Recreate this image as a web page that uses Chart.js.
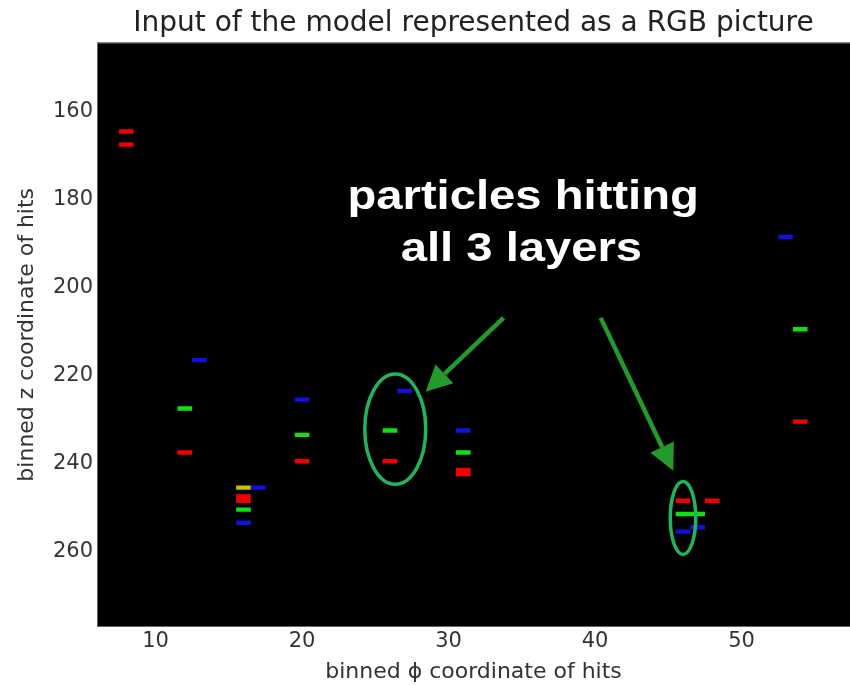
<!DOCTYPE html>
<html><head><meta charset="utf-8">
<script src="https://cdn.jsdelivr.net/npm/chart.js@4"></script>
<style>html,body{margin:0;padding:0;background:#fff}#wrap{width:850px;height:685px;position:relative}</style>
</head><body><div id="wrap"><canvas id="c"></canvas></div>
<script>
const chartTitle = "Input of the model represented as a RGB picture";
const xAxisTitle = "binned \u03D5 coordinate of hits";
const yAxisTitle = "binned z coordinate of hits";
const xTickValues = [10, 20, 30, 40, 50];
const yTickValues = [160, 180, 200, 220, 240, 260];

// hits per layer (binned phi, binned z)
const redX = [8, 8, 12, 20, 16, 16, 26, 31, 31, 54, 46, 48];
const redY = [164, 167, 237, 239, 247, 248, 239, 241, 242, 230, 248, 248];
const greenX = [12, 20, 16, 26, 31, 54, 46, 47];
const greenY = [227, 233, 250, 232, 237, 209, 251, 251];
const blueX = [13, 20, 17, 16, 27, 31, 53, 46, 47];
const blueY = [216, 225, 245, 253, 223, 232, 188, 255, 254];
const yellowX = [16];
const yellowY = [245];

const annotationLines = ["particles hitting", "all 3 layers"];

function cellSegments(xs, ys) {
  const pts = [];
  xs.forEach((x, i) => {
    const y = ys[i] + 0.5;
    pts.push({x: x - 0.5, y: y}, {x: x + 0.5, y: y}, {x: x + 0.5, y: null});
  });
  return pts;
}
function layer(xs, ys, color) {
  return {data: cellSegments(xs, ys), borderColor: color, backgroundColor: color,
    showLine: true, spanGaps: false, borderWidth: 4.4, pointRadius: 0, borderCapStyle: 'butt', tension: 0};
}

const ellipseGreen = '#22b45a';
const arrowGreen = '#239a2c';

const deco = {
  id: 'deco',
  beforeDraw(chart) {
    const {ctx, chartArea: a} = chart;
    ctx.save();
    ctx.fillStyle = '#000';
    ctx.fillRect(a.left, a.top, a.right - a.left, a.bottom - a.top);
    ctx.restore();
  },
  afterDatasetsDraw(chart) {
    const {ctx, chartArea: a} = chart;
    const xs = chart.scales.x, ys = chart.scales.y;
    const px = v => xs.getPixelForValue(v), py = v => ys.getPixelForValue(v);
    ctx.save();
    ctx.strokeStyle = '#666'; ctx.lineWidth = 1;
    ctx.strokeRect(a.left + 0.5, a.top + 0.5, a.right - a.left, a.bottom - a.top - 1);
    // ellipses
    const ell = (cx, cy, rx, ry) => {
      const X = px(cx), Y = py(cy);
      const RX = Math.abs(px(cx + rx) - X), RY = Math.abs(py(cy + ry) - Y);
      ctx.beginPath(); ctx.ellipse(X, Y, RX, RY, 0, 0, Math.PI * 2);
      ctx.strokeStyle = ellipseGreen; ctx.lineWidth = 3.5; ctx.stroke();
    };
    ell(26.36, 232.2, 2.08, 12.56);
    ell(46.0, 252.4, 0.87, 8.3);
    // arrows
    const arrow = (x0, y0, x1, y1) => {
      const X0 = px(x0), Y0 = py(y0), X1 = px(x1), Y1 = py(y1);
      const ang = Math.atan2(Y1 - Y0, X1 - X0);
      const hl = 26, hw = 13;
      const bx = X1 - hl * Math.cos(ang), by = Y1 - hl * Math.sin(ang);
      ctx.strokeStyle = arrowGreen; ctx.fillStyle = arrowGreen; ctx.lineWidth = 4.5;
      ctx.beginPath(); ctx.moveTo(X0, Y0); ctx.lineTo(bx, by); ctx.stroke();
      ctx.beginPath();
      ctx.moveTo(X1, Y1);
      ctx.lineTo(bx + hw * Math.sin(ang), by - hw * Math.cos(ang));
      ctx.lineTo(bx - hw * Math.sin(ang), by + hw * Math.cos(ang));
      ctx.closePath(); ctx.fill();
    };
    arrow(33.75, 206.9, 28.43, 223.7);
    arrow(40.38, 206.9, 45.34, 241.65);
    // text
    ctx.fillStyle = '#fff';
    ctx.font = 'bold 40px "Liberation Sans", Arial, sans-serif';
    ctx.textAlign = 'center'; ctx.textBaseline = 'alphabetic';
    const txt = (s, x, y) => {
      ctx.save(); ctx.translate(px(x), py(y)); ctx.scale(1.18, 1); ctx.fillText(s, 0, 0); ctx.restore();
    };
    txt(annotationLines[0], 35.09, 182.1);
    txt(annotationLines[1], 34.97, 193.9);
    ctx.restore();
  }
};

new Chart(document.getElementById('c'), {
  type: 'scatter',
  data: {datasets: [
    layer(redX, redY, '#f20000'),
    layer(greenX, greenY, '#10e010'),
    layer(blueX, blueY, '#1010e0'),
    layer(yellowX, yellowY, '#c8c000')
  ]},
  options: {
    responsive: true, maintainAspectRatio: false, animation: false,
    layout: {padding: 0},
    plugins: {
      legend: {display: false}, tooltip: {enabled: false},
      title: {display: true, text: chartTitle, fullSize: false, color: '#222',
        font: {family: 'DejaVu Sans', size: 28, weight: 'normal'}, padding: {top: 7, bottom: 2}}
    },
    scales: {
      x: {type: 'linear', min: 6, max: 57.4,
        afterBuildTicks: s => { s.ticks = xTickValues.map(v => ({value: v})); },
        afterFit: s => { s.height = 58; },
        grid: {display: false, drawTicks: false}, border: {display: false},
        ticks: {padding: 2, color: '#333', font: {family: 'DejaVu Sans', size: 21}},
        title: {display: true, text: xAxisTitle, color: '#333', font: {family: 'DejaVu Sans', size: 22}, padding: {top: 0, bottom: 0}}
      },
      y: {type: 'linear', reverse: true, min: 144.3, max: 277.2,
        afterBuildTicks: s => { s.ticks = yTickValues.map(v => ({value: v})); },
        afterFit: s => { s.width = 97; },
        grid: {display: false, drawTicks: false}, border: {display: false},
        ticks: {padding: 4, color: '#333', font: {family: 'DejaVu Sans', size: 21}},
        title: {display: true, text: yAxisTitle, color: '#333', font: {family: 'DejaVu Sans', size: 22}, padding: {top: 14, bottom: 0}}
      }
    }
  },
  plugins: [deco]
});
</script></body></html>
